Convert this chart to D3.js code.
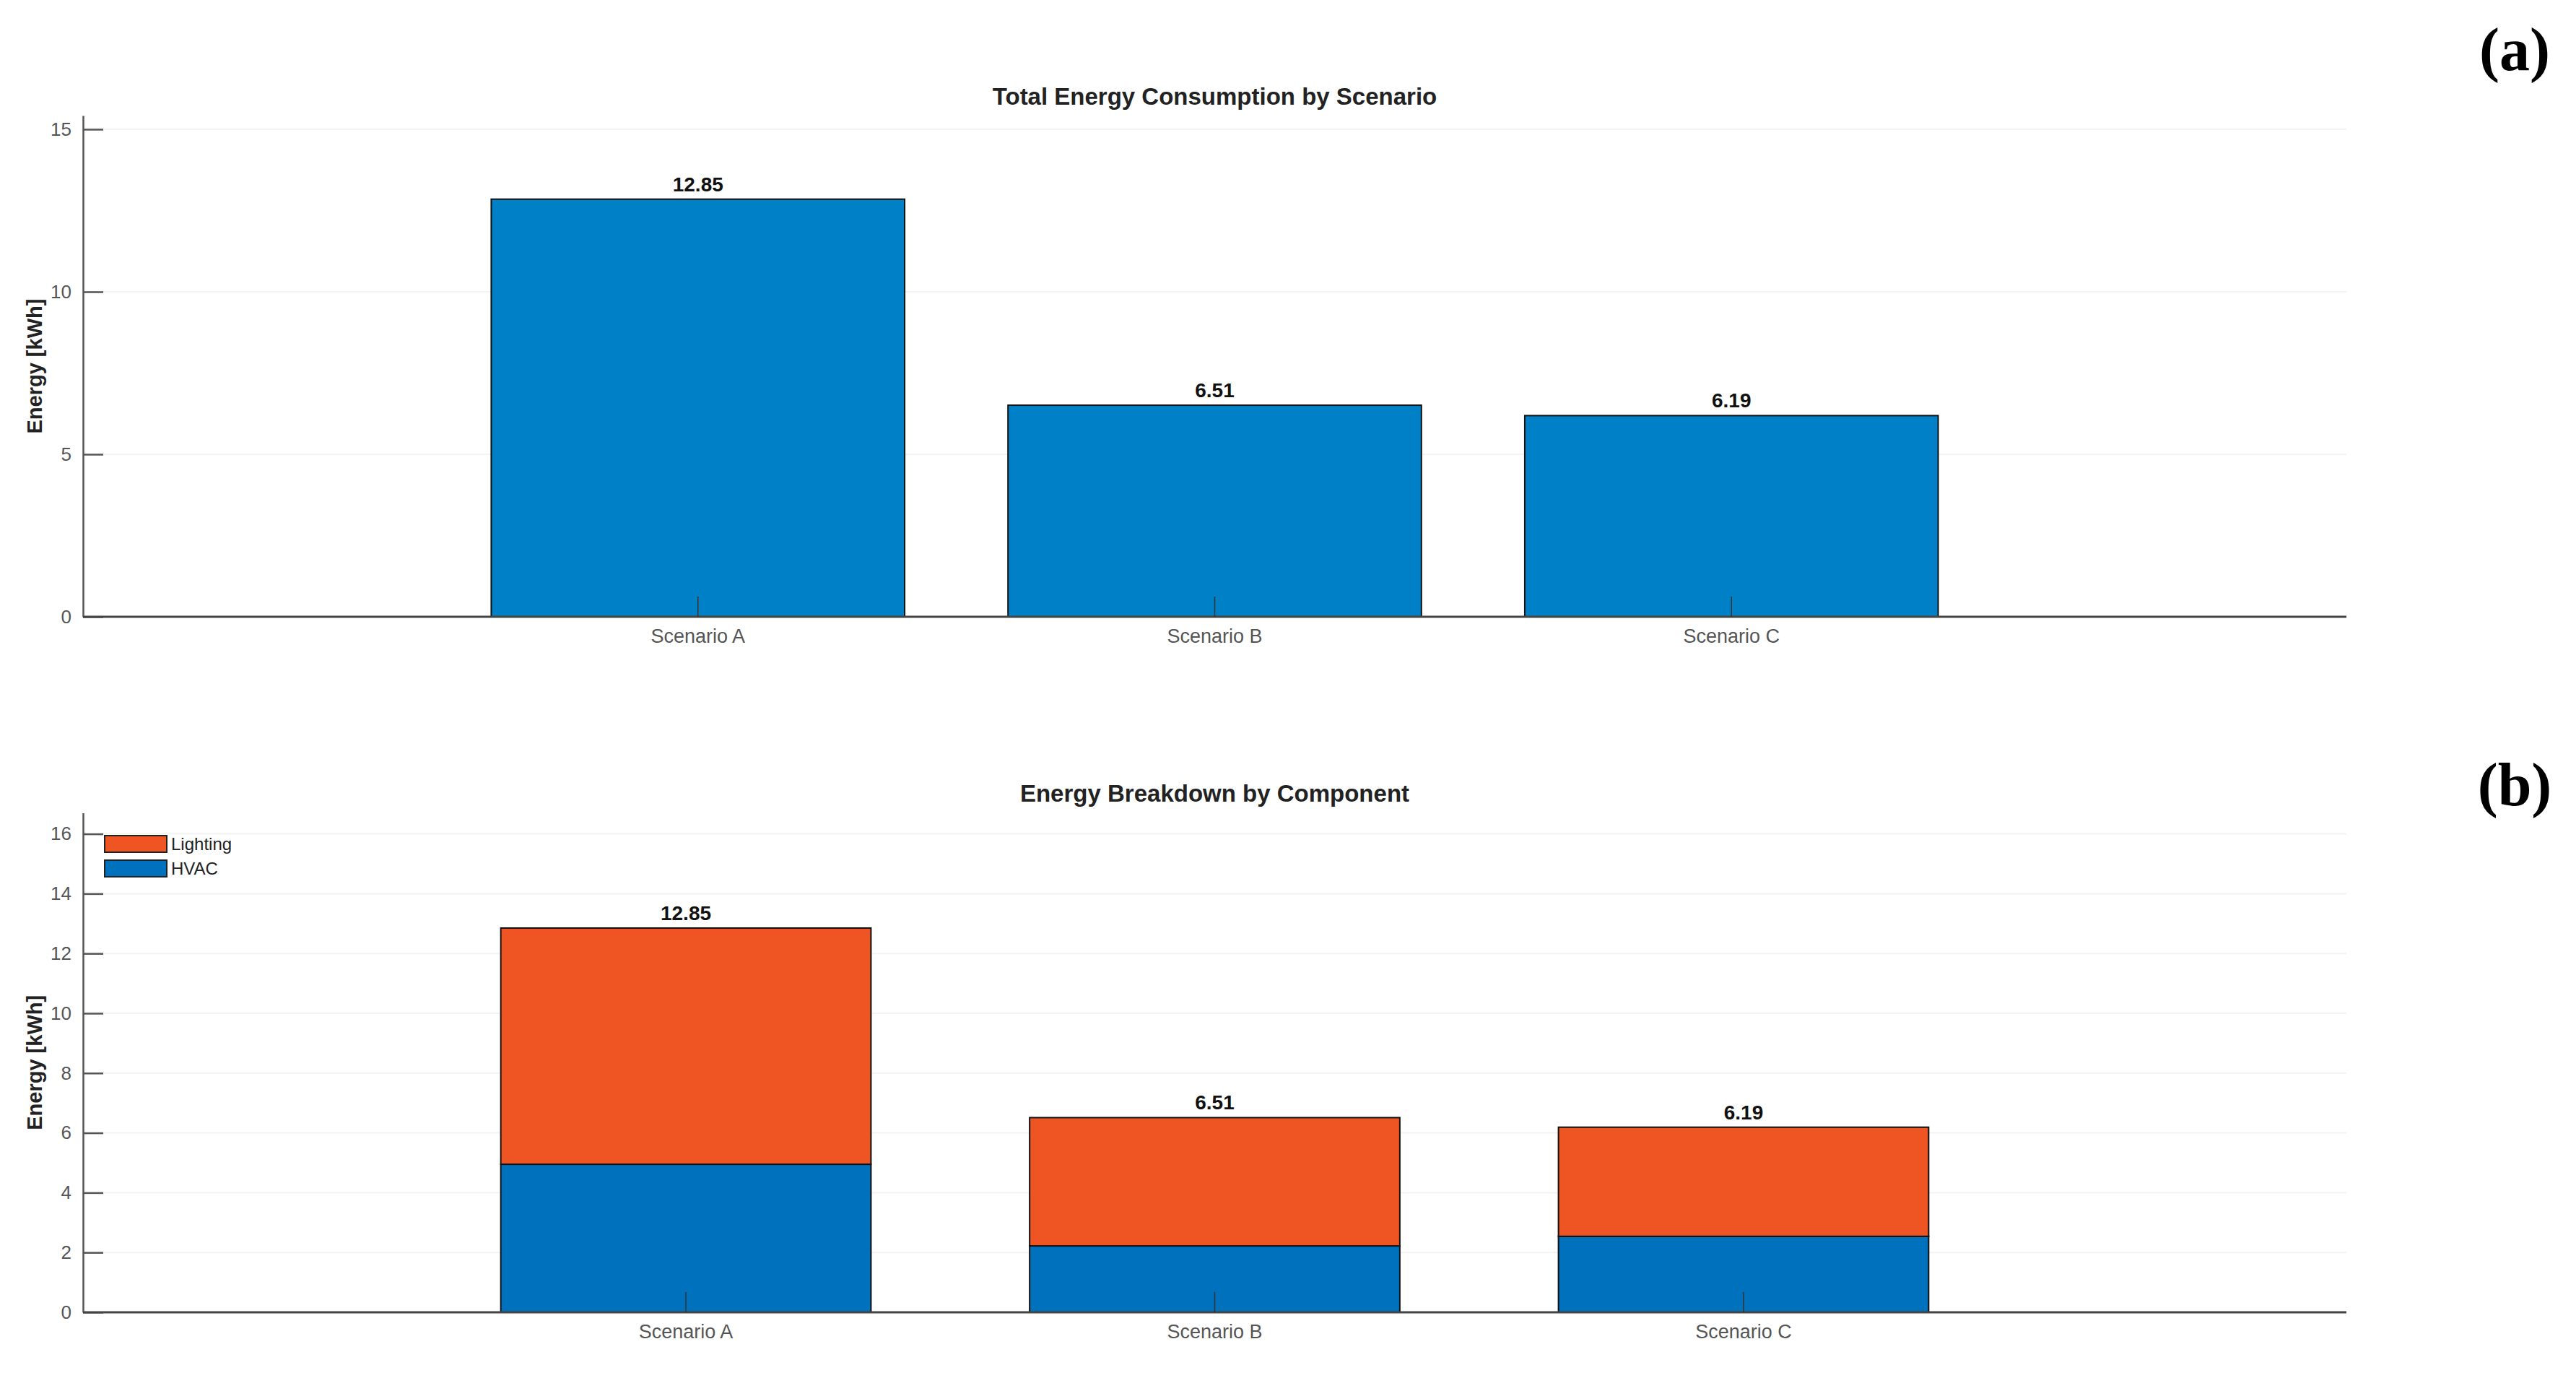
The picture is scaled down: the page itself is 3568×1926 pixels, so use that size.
<!DOCTYPE html>
<html>
<head>
<meta charset="utf-8">
<script src="https://cdn.jsdelivr.net/npm/d3@7"></script>
<style>
  body { margin: 0; background: #fff; }
  text { font-family: "Liberation Sans", Arial, sans-serif; }
</style>
</head>
<body>
<div id="chart"></div>
<script>
// Data
let scenarios = ["Scenario A", "Scenario B", "Scenario C"];
let totals = [12.85, 6.51, 6.19];
let hvac = [4.95, 2.22, 2.54];
let lighting = [7.90, 4.29, 3.65];
let components = ["HVAC", "Lighting"];
let topTicks = [0, 5, 10, 15];
let bottomTicks = [0, 2, 4, 6, 8, 10, 12, 14, 16];

let W = 3568, H = 1926;
let x0 = 115, x1 = 3250;

let svg = d3.select("#chart").append("svg")
  .attr("width", W)
  .attr("height", H);

// draws the grid, title and labels of one panel
let frame = function (y, x, ticks, title, titleY, tag, tagY) {
  let g = svg.append("g");

  // faint grid
  g.selectAll("line.grid")
    .data(ticks.filter(d => d > 0))
    .enter().append("line")
    .attr("x1", x0).attr("x2", x1)
    .attr("y1", d => y(d)).attr("y2", d => y(d))
    .attr("stroke", "#f3f3f3")
    .attr("stroke-width", 2);

  g.append("text")
    .attr("x", (x0 + x1) / 2)
    .attr("y", titleY)
    .attr("text-anchor", "middle")
    .attr("font-size", 33)
    .attr("font-weight", "bold")
    .attr("fill", "#222")
    .text(title);

  let yc = (y.range()[0] + y.range()[1]) / 2;
  g.append("text")
    .attr("transform", "translate(58," + yc + ") rotate(-90)")
    .attr("text-anchor", "middle")
    .attr("font-size", 29)
    .attr("font-weight", "bold")
    .attr("fill", "#222")
    .text("Energy [kWh]");

  svg.append("text")
    .attr("x", 3483)
    .attr("y", tagY)
    .attr("text-anchor", "middle")
    .style("font-family", "'Liberation Serif', 'Times New Roman', serif")
    .attr("font-size", 84)
    .attr("font-weight", "bold")
    .attr("fill", "#000")
    .text(tag);
  return g;
}

let axes = function (y, x, ticks) {
  let ya = svg.append("g")
    .attr("transform", "translate(" + x0 + ",0)")
    .call(d3.axisLeft(y).tickValues(ticks).tickSize(-28).tickSizeOuter(0).tickPadding(16));
  ya.select(".domain").attr("stroke", "#555").attr("stroke-width", 2.5);
  ya.selectAll(".tick line").attr("stroke", "#555").attr("stroke-width", 2.5);
  ya.selectAll(".tick text").attr("font-size", 26).attr("fill", "#555")
    .style("font-family", "Liberation Sans, Arial, sans-serif");

  let xa = svg.append("g")
    .attr("transform", "translate(0," + y(0) + ")")
    .call(d3.axisBottom(x).tickSize(-28).tickSizeOuter(0).tickPadding(17));
  xa.select(".domain").attr("stroke", "#444").attr("stroke-width", 3)
    .attr("d", "M" + x0 + ",0H" + x1);
  xa.selectAll(".tick line").attr("stroke", "#333").attr("stroke-width", 1.5);
  xa.selectAll(".tick text").attr("font-size", 27).attr("fill", "#555")
    .style("font-family", "Liberation Sans, Arial, sans-serif");
}

let valueLabels = function (y, x) {
  svg.append("g").selectAll("text")
    .data(totals)
    .enter().append("text")
    .attr("x", (d, i) => x(scenarios[i]) + x.bandwidth() / 2)
    .attr("y", d => y(d) - 11)
    .attr("text-anchor", "middle")
    .attr("font-size", 28)
    .attr("font-weight", "bold")
    .attr("fill", "#111")
    .text(d => d.toFixed(2));
}

// (a) Total energy
let yA = d3.scaleLinear().domain([0, 15.42]).range([854, 854 - 15.42 * 45]);
let xA = d3.scaleBand().domain(scenarios).range([x0, x1])
  .paddingInner(0.2).paddingOuter(0.79);

frame(yA, xA, topTicks, "Total Energy Consumption by Scenario", 145, "(a)", 97);

svg.append("g").selectAll("rect")
  .data(totals)
  .enter().append("rect")
  .attr("x", (d, i) => xA(scenarios[i]))
  .attr("width", xA.bandwidth())
  .attr("y", d => yA(d))
  .attr("height", d => yA(0) - yA(d))
  .attr("fill", "#0080C6")
  .attr("stroke", "#111")
  .attr("stroke-width", 2);

axes(yA, xA, topTicks);
valueLabels(yA, xA);

// (b) Breakdown
let yB = d3.scaleLinear().domain([0, 16.7]).range([1817, 1817 - 16.7 * 41.4]);
let xB = d3.scaleBand().domain(scenarios).range([x0, x1])
  .paddingInner(0.3).paddingOuter(0.79);
let color = d3.scaleOrdinal().domain(components).range(["#0072BD", "#EF5423"]);

frame(yB, xB, bottomTicks, "Energy Breakdown by Component", 1110, "(b)", 1115);

let rows = scenarios.map((s, i) => ({ name: s, HVAC: hvac[i], Lighting: lighting[i] }));
let stacked = d3.stack().keys(components)(rows);

svg.append("g").selectAll("g")
  .data(stacked)
  .enter().append("g")
  .attr("fill", d => color(d.key))
  .selectAll("rect")
  .data(d => d)
  .enter().append("rect")
  .attr("x", d => xB(d.data.name))
  .attr("width", xB.bandwidth())
  .attr("y", d => yB(d[1]))
  .attr("height", d => yB(d[0]) - yB(d[1]))
  .attr("stroke", "#111")
  .attr("stroke-width", 2);

axes(yB, xB, bottomTicks);
valueLabels(yB, xB);

// legend
let legendKeys = ["Lighting", "HVAC"];
let lg = svg.append("g").selectAll("g")
  .data(legendKeys)
  .enter().append("g")
  .attr("transform", (d, i) => "translate(145," + (1157 + i * 34) + ")");
lg.append("rect")
  .attr("width", 86).attr("height", 23)
  .attr("fill", d => color(d))
  .attr("stroke", "#222")
  .attr("stroke-width", 2);
lg.append("text")
  .attr("x", 92).attr("y", 12)
  .attr("dy", "0.35em")
  .attr("font-size", 24)
  .attr("fill", "#222")
  .text(d => d);
</script>
</body>
</html>
